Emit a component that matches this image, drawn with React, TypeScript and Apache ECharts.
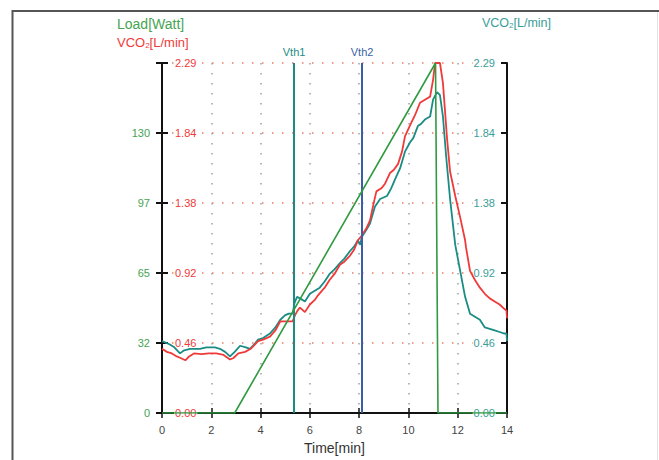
import React, { useEffect, useRef } from "react";
import * as echarts from "echarts";

// ---- data ----
const xTickLabels = ["0", "2", "4", "6", "8", "10", "12", "14"];
const vcoTickLabels = ["0.00", "0.46", "0.92", "1.38", "1.84", "2.29"];
const loadTickLabels = ["0", "32", "65", "97", "130", ""];
const thresholdNames = ["Vth1", "Vth2"];
const thresholdTimes = [5.36, 8.12];

// Load [Watt] vs time [min]
const loadData: number[][] = [
  [0, 0], [2.95, 0], [11.1, 162], [11.2, 0], [14, 0],
];

// VCO2 (red, left scale) vs time [min]
const vcoRed: number[][] = [
  [0, 0.42], [0.2, 0.40], [0.4, 0.39], [0.6, 0.37], [0.75, 0.36], [0.95, 0.345],
  [1.1, 0.37], [1.3, 0.39], [1.6, 0.385], [1.9, 0.39], [2.2, 0.39], [2.5, 0.38],
  [2.76, 0.35], [2.9, 0.36], [3.1, 0.39], [3.37, 0.40], [3.6, 0.42], [3.9, 0.47],
  [4.1, 0.48], [4.38, 0.50], [4.6, 0.54], [4.8, 0.60], [5.0, 0.60], [5.3, 0.60],
  [5.4, 0.64], [5.5, 0.67], [5.6, 0.69], [5.8, 0.66], [6.0, 0.71], [6.2, 0.74],
  [6.33, 0.77], [6.6, 0.82], [6.8, 0.87], [7.0, 0.91], [7.22, 0.97], [7.4, 0.99],
  [7.63, 1.03], [7.8, 1.07], [7.95, 1.13], [8.1, 1.16], [8.3, 1.21], [8.44, 1.26],
  [8.6, 1.38], [8.7, 1.45], [8.9, 1.47], [9.05, 1.50], [9.25, 1.57], [9.4, 1.59],
  [9.58, 1.63], [9.74, 1.71], [9.86, 1.81], [10.06, 1.88], [10.27, 1.95],
  [10.47, 2.03], [10.67, 2.05], [10.88, 2.07], [11.0, 2.18], [11.08, 2.29],
  [11.28, 2.29], [11.4, 2.16], [11.57, 1.79], [11.69, 1.58], [11.9, 1.42],
  [12.1, 1.28], [12.3, 1.13], [12.34, 1.08], [12.5, 0.93], [12.7, 0.87],
  [12.9, 0.82], [13.1, 0.78], [13.3, 0.75], [13.5, 0.73], [13.7, 0.71],
  [13.9, 0.68], [13.98, 0.67], [14, 0.62],
];

// VCO2 (teal, right scale) vs time [min]
const vcoTeal: number[][] = [
  [0, 0.47], [0.3, 0.45], [0.5, 0.43], [0.73, 0.39], [0.9, 0.41], [1.14, 0.42],
  [1.54, 0.42], [1.8, 0.43], [2.15, 0.43], [2.35, 0.42], [2.56, 0.40], [2.76, 0.37],
  [2.95, 0.40], [3.17, 0.44], [3.4, 0.43], [3.57, 0.42], [3.75, 0.45], [3.9, 0.48],
  [4.1, 0.49], [4.38, 0.52], [4.6, 0.56], [4.8, 0.61], [5.0, 0.64], [5.15, 0.65],
  [5.3, 0.65], [5.38, 0.72], [5.48, 0.76], [5.6, 0.75], [5.8, 0.73], [6.0, 0.78],
  [6.2, 0.80], [6.4, 0.82], [6.6, 0.86], [6.8, 0.91], [7.0, 0.94], [7.22, 0.98],
  [7.4, 1.01], [7.63, 1.06], [7.8, 1.09], [7.95, 1.13], [8.05, 1.10], [8.1, 1.15],
  [8.3, 1.20], [8.44, 1.24], [8.64, 1.35], [8.85, 1.40], [9.13, 1.42], [9.3, 1.47],
  [9.46, 1.53], [9.66, 1.60], [9.86, 1.71], [10.06, 1.77], [10.2, 1.80],
  [10.39, 1.88], [10.5, 1.89], [10.67, 1.92], [10.88, 1.94], [11.0, 2.05],
  [11.16, 2.10], [11.28, 2.08], [11.4, 1.94], [11.53, 1.68], [11.69, 1.40],
  [11.9, 1.10], [12.1, 0.93], [12.3, 0.76], [12.5, 0.65], [12.7, 0.63],
  [12.9, 0.61], [13.1, 0.56], [13.3, 0.55], [13.5, 0.54], [13.7, 0.53],
  [13.9, 0.52], [13.98, 0.52], [14, 0.47],
];

// ---- styles ----
const RED = "#f03a3a";
const TEAL = "#1a8c84";
const TEAL_LABEL = "#3a9e98";
const GREEN = "#2f9a40";
const GREEN_LABEL = "#46a452";
const BLUE = "#3b5fa6";
const thresholdColors = [TEAL, BLUE];
const FONT = "'Liberation Sans', Arial, sans-serif";

export default function App() {
  const ref = useRef<HTMLDivElement>(null);

  useEffect(() => {
    if (!ref.current) return;
    const chart = echarts.init(ref.current, undefined, { renderer: "svg" });

    const option: any = {
      animation: false,
      backgroundColor: "#ffffff",
      textStyle: { fontFamily: FONT },
      grid: { left: 162, right: 152, top: 63, bottom: 42.5, containLabel: false },
      xAxis: [
        {
          type: "value",
          min: 0,
          max: 14,
          interval: 2,
          name: "Time[min]",
          nameLocation: "middle",
          nameGap: 28,
          nameTextStyle: { fontSize: 14, color: "#333", fontFamily: FONT },
          axisLine: { show: true, onZero: false, lineStyle: { color: "#111", width: 2 } },
          axisTick: { show: true, length: 5, lineStyle: { color: "#111", width: 1.5 } },
          axisLabel: {
            fontSize: 11,
            color: "#444",
            margin: 11,
            fontFamily: FONT,
            formatter: (_v: number, i: number) => xTickLabels[i],
          },
          splitLine: { show: true, lineStyle: { color: "#a0a0a0", type: [1.5, 8.5], width: 1.5 } },
        },
        {
          type: "value",
          min: 0,
          max: 14,
          interval: 2,
          position: "bottom",
          axisLine: { show: false },
          axisTick: { show: true, inside: true, length: 5, lineStyle: { color: "#111", width: 1.5 } },
          axisLabel: { show: false },
          splitLine: { show: false },
        },
      ],
      yAxis: [
        {
          type: "value",
          position: "left",
          min: 0,
          max: 2.29,
          interval: 0.458,
          axisLine: { show: true, onZero: false, lineStyle: { color: "#111", width: 2 } },
          axisTick: { show: true, inside: true, length: 6, lineStyle: { color: "#111", width: 2 } },
          axisLabel: {
            inside: true,
            margin: 12,
            fontSize: 11,
            color: RED,
            fontFamily: FONT,
            backgroundColor: "#ffffff",
            padding: [0, 1],
            formatter: (_v: number, i: number) => vcoTickLabels[i],
          },
          splitLine: { show: true, lineStyle: { color: "#f07a6a", type: [1.5, 8.5], width: 1.5 } },
        },
        {
          type: "value",
          position: "left",
          min: 0,
          max: 162,
          interval: 32.4,
          axisLine: { show: true, onZero: false, lineStyle: { color: "#111", width: 2 } },
          axisTick: { show: true, length: 6, lineStyle: { color: "#111", width: 2 } },
          axisLabel: {
            margin: 12,
            fontSize: 11,
            color: GREEN_LABEL,
            fontFamily: FONT,
            formatter: (_v: number, i: number) => loadTickLabels[i],
          },
          splitLine: { show: false },
        },
        {
          type: "value",
          position: "right",
          min: 0,
          max: 2.29,
          interval: 0.458,
          axisLine: { show: true, onZero: false, lineStyle: { color: "#111", width: 2 } },
          axisTick: { show: true, inside: true, length: 6, lineStyle: { color: "#111", width: 2 } },
          axisLabel: {
            inside: true,
            margin: 11,
            fontSize: 11,
            color: TEAL_LABEL,
            fontFamily: FONT,
            backgroundColor: "#ffffff",
            padding: [0, 1],
            formatter: (_v: number, i: number) => vcoTickLabels[i],
          },
          splitLine: { show: false },
        },
      ],
      series: [
        {
          name: "VCO2 right",
          type: "line",
          yAxisIndex: 2,
          data: vcoTeal,
          showSymbol: false,
          lineStyle: { color: TEAL, width: 1.8 },
          itemStyle: { color: TEAL },
          z: 3,
        },
        {
          name: "VCO2 left",
          type: "line",
          yAxisIndex: 0,
          data: vcoRed,
          showSymbol: false,
          lineStyle: { color: RED, width: 1.8 },
          itemStyle: { color: RED },
          z: 4,
        },
        {
          name: "Load",
          type: "line",
          yAxisIndex: 1,
          data: loadData,
          showSymbol: false,
          lineStyle: { color: GREEN, width: 1.6 },
          itemStyle: { color: GREEN },
          z: 5,
        },
        {
          name: "thresholds",
          type: "line",
          yAxisIndex: 0,
          data: [],
          markLine: {
            silent: true,
            symbol: "none",
            animation: false,
            data: thresholdTimes.map((t, i) => ({
              xAxis: t,
              lineStyle: { color: thresholdColors[i], width: 2, type: "solid" },
              label: {
                show: true,
                formatter: thresholdNames[i],
                position: "end",
                distance: 6,
                color: thresholdColors[i],
                fontSize: 11,
                fontFamily: FONT,
              },
            })),
          },
          z: 2,
        },
      ],
      graphic: [
        { type: "line", shape: { x1: 12, y1: 11, x2: 659, y2: 11 }, style: { stroke: "#555", lineWidth: 2 }, silent: true },
        { type: "line", shape: { x1: 12.5, y1: 10, x2: 12.5, y2: 460 }, style: { stroke: "#555", lineWidth: 2 }, silent: true },
        { type: "line", shape: { x1: 657.5, y1: 12, x2: 657.5, y2: 460 }, style: { stroke: "#e2e2e2", lineWidth: 1 }, silent: true },
        {
          type: "text",
          left: 117,
          top: 17,
          style: { text: "Load[Watt]", fill: GREEN_LABEL, fontSize: 14, fontFamily: FONT },
          silent: true,
        },
        {
          type: "text",
          left: 117,
          top: 36,
          style: {
            text: "{a|VCO}{b|2}{a|[L/min]}",
            fill: RED,
            fontFamily: FONT,
            rich: {
              a: { fontSize: 13, fill: RED, fontFamily: FONT, lineHeight: 16, verticalAlign: "bottom" },
              b: { fontSize: 8, fill: RED, fontFamily: FONT, lineHeight: 12, verticalAlign: "bottom" },
            },
          },
          silent: true,
        },
        {
          type: "text",
          left: 482,
          top: 16,
          style: {
            text: "{a|VCO}{b|2}{a|[L/min]}",
            fill: TEAL_LABEL,
            fontFamily: FONT,
            rich: {
              a: { fontSize: 12.5, fill: TEAL_LABEL, fontFamily: FONT, lineHeight: 16, verticalAlign: "bottom" },
              b: { fontSize: 8, fill: TEAL_LABEL, fontFamily: FONT, lineHeight: 12, verticalAlign: "bottom" },
            },
          },
          silent: true,
        },
      ],
    };

    chart.setOption(option);
    return () => chart.dispose();
  }, []);

  return (
    <div
      ref={ref}
      style={{ position: "absolute", left: 0, top: 0, width: 659, height: 460, background: "#fff" }}
    />
  );
}
